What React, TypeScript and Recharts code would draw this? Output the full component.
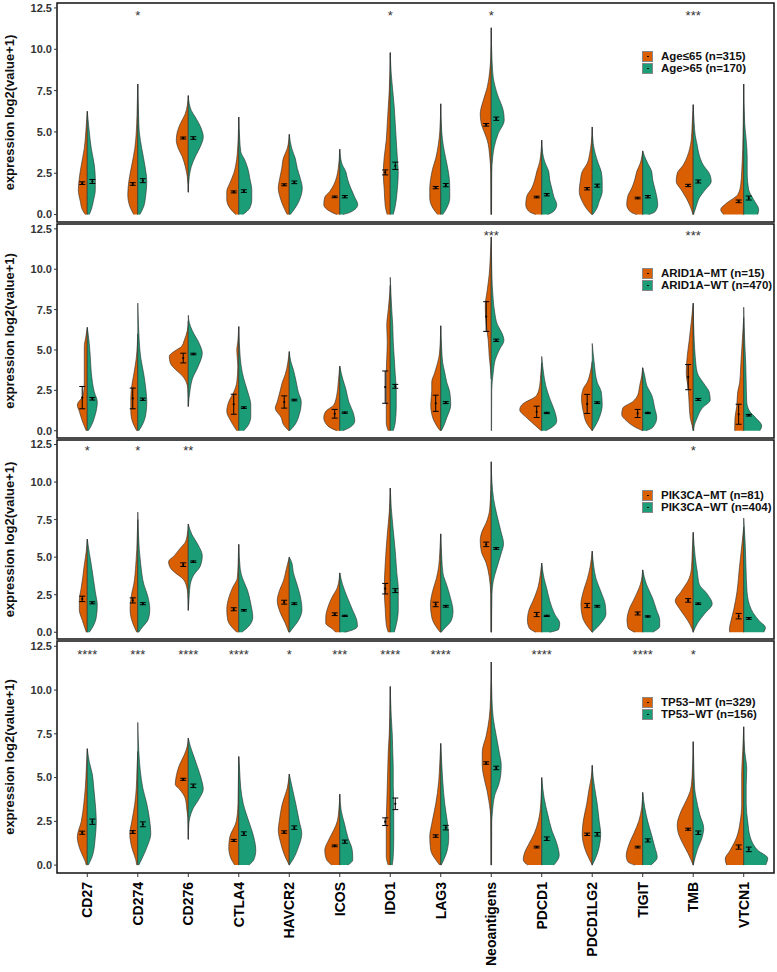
import React from 'react';
import { ComposedChart, Area, XAxis, YAxis, Scatter, ErrorBar, ReferenceArea, Legend } from 'recharts';

type Profile = [number, number][];

const CATEGORIES = ['CD27', 'CD274', 'CD276', 'CTLA4', 'HAVCR2', 'ICOS', 'IDO1', 'LAG3', 'Neoantigens', 'PDCD1', 'PDCD1LG2', 'TIGIT', 'TMB', 'VTCN1'];
const Y_TICKS = [0, 2.5, 5, 7.5, 10, 12.5];
const X_TICKS = [1, 2, 3, 4, 5, 6, 7, 8, 9, 10, 11, 12, 13, 14];

// ---------- Panel 1: Age ----------
const AGE_LEGEND = ['Age≤65 (n=315)', 'Age>65 (n=170)'];
const AGE_STARS = ['', '*', '', '', '', '', '*', '', '*', '', '', '', '***', ''];
const AGE_MEAN_A = [1.9, 1.85, 4.63, 1.37, 1.8, 1.07, 2.55, 1.63, 5.43, 1.06, 1.56, 1.0, 1.76, 0.8];
const AGE_SE_A = [0.08, 0.08, 0.06, 0.06, 0.06, 0.05, 0.15, 0.07, 0.08, 0.05, 0.07, 0.05, 0.07, 0.08];
const AGE_MEAN_B = [2.0, 2.05, 4.63, 1.42, 1.95, 1.08, 2.95, 1.78, 5.8, 1.2, 1.75, 1.08, 2.0, 1.0];
const AGE_SE_B = [0.12, 0.12, 0.08, 0.08, 0.08, 0.07, 0.22, 0.1, 0.1, 0.07, 0.09, 0.07, 0.09, 0.12];
const AGE_SHAPE_A: Profile[] = [
  [[0, 2], [0.3, 5], [0.8, 7], [1.5, 9], [2.2, 8], [3, 6], [4, 3], [5, 1.5], [6.25, 0]],
  [[0, 4], [0.5, 8], [1.2, 10], [2, 9], [3, 6], [4, 3], [5, 1.5], [6, 0.8], [7.9, 0]],
  [[1.35, 0], [2.3, 1], [2.9, 3], [3.5, 6], [4, 10], [4.5, 12], [5, 11], [5.5, 8], [6.1, 3], [6.6, 1], [7.2, 0]],
  [[0, 3], [0.4, 9], [0.9, 12], [1.4, 12], [1.9, 9], [2.5, 5], [3, 3], [3.7, 1.5], [5.9, 0]],
  [[0, 2], [0.5, 6], [1, 9], [1.6, 11], [2.2, 9.5], [2.8, 7.5], [3.4, 6], [4, 2], [4.85, 0]],
  [[0, 3], [0.2, 10], [0.6, 16], [1.05, 15], [1.4, 10], [1.8, 6], [2.3, 3], [2.8, 1.5], [3.95, 0]],
  [[0, 3], [0.5, 5], [1.5, 6], [2.5, 7], [3.5, 6], [4.5, 4], [5.5, 3], [6.5, 2], [7.5, 1], [9.8, 0]],
  [[0, 3], [0.4, 8], [1, 11], [1.6, 11], [2.2, 10], [2.8, 8], [3.4, 5], [4.2, 2.5], [5, 1], [6.7, 0]],
  [[0, 0.3], [2.5, 0.5], [3.5, 1.5], [4.5, 4], [5, 7], [5.5, 10], [6.1, 11], [6.9, 8], [7.7, 4], [8.7, 1.5], [9.5, 0.5], [11.3, 0]],
  [[0, 6], [0.2, 13], [0.6, 16], [1.1, 15], [1.6, 10], [2.1, 7], [2.6, 5], [3.2, 2], [4.5, 0]],
  [[0, 0.5], [0.3, 5], [0.8, 10], [1.4, 13], [2, 12], [2.6, 10], [3.1, 5], [3.7, 2.5], [4.3, 1], [5.3, 0]],
  [[0, 6], [0.15, 12], [0.6, 16], [1.1, 15], [1.6, 11], [2.1, 8], [2.6, 6], [3.1, 2.5], [3.85, 0]],
  [[0, 0.3], [0.5, 3], [1, 7], [1.5, 12], [2, 17], [2.5, 16], [3, 10], [3.5, 6], [4, 3.5], [4.5, 2], [5.5, 1], [6.65, 0]],
  [[0, 20], [0.3, 23], [0.7, 17], [1.2, 6], [1.8, 3], [2.6, 2], [4, 1], [5.5, 0.5], [7.9, 0]],
];
const AGE_SHAPE_B: Profile[] = [
  [[0, 2], [0.3, 4], [0.8, 6], [1.5, 8], [2.2, 8], [3, 7], [4, 4], [5, 2], [6.25, 0]],
  [[0, 2], [0.5, 6], [1.2, 8], [2, 9], [3, 7], [4, 4], [5, 1.5], [6, 0.8], [7.9, 0]],
  [[1.35, 0], [2.3, 1], [2.9, 3], [3.5, 7], [4.1, 12], [4.7, 15], [5.2, 13], [5.9, 7], [6.3, 3], [6.7, 1], [7.2, 0]],
  [[0, 4], [0.4, 11], [0.9, 13], [1.5, 13], [2.2, 11], [2.8, 9], [3.3, 6], [3.8, 2], [4.5, 1], [5.9, 0]],
  [[0, 1], [0.5, 7], [1, 11], [1.6, 13], [2.2, 11], [2.8, 8], [3.4, 6], [4, 2.5], [4.85, 0]],
  [[0, 3], [0.15, 11], [0.6, 18], [1.05, 15], [1.6, 11], [2.1, 8], [2.6, 6], [3.1, 2], [3.95, 0]],
  [[0, 3], [0.5, 5], [1.5, 7], [2.5, 8], [3.5, 7], [4.5, 6], [5.5, 5], [6.5, 4], [7.5, 2.5], [8.5, 1], [9.8, 0]],
  [[0, 2], [0.4, 6], [1, 9], [1.6, 9], [2.2, 8.5], [2.8, 7], [3.4, 5], [4.2, 2.5], [5, 1], [6.7, 0]],
  [[0, 0.3], [2.5, 0.5], [3.5, 1.5], [4.1, 3], [4.9, 7], [5.7, 13], [6.3, 12], [7.3, 6], [8.3, 2], [9.3, 0.8], [11.3, 0]],
  [[0, 6], [0.2, 12], [0.6, 15], [1.1, 12], [1.6, 10], [2.1, 8], [2.6, 7], [3.2, 3], [3.7, 1], [4.5, 0]],
  [[0, 0.5], [0.3, 4], [0.8, 7], [1.4, 10], [2, 10], [2.6, 9], [3.1, 6], [3.7, 3], [4.3, 1], [5.3, 0]],
  [[0, 6], [0.15, 12], [0.6, 15], [1.1, 14], [1.6, 12], [2.1, 10], [2.6, 9], [3.1, 5], [3.5, 2], [3.85, 0]],
  [[0, 0.3], [0.5, 3], [1, 6], [1.5, 12], [2, 18], [2.5, 16], [3, 10], [3.6, 6], [4.2, 4], [4.8, 2], [5.5, 1], [6.65, 0]],
  [[0, 14], [0.3, 15], [0.9, 10], [1.5, 5], [2.5, 3.5], [3.5, 3.5], [4.5, 2.5], [5.5, 1], [7.9, 0]],
];

// ---------- Panel 2: ARID1A ----------
const ARID_LEGEND = ['ARID1A−MT (n=15)', 'ARID1A−WT (n=470)'];
const ARID_STARS = ['', '', '', '', '', '', '', '', '***', '', '', '', '***', ''];
const ARID_MEAN_A = [2.05, 2.0, 4.5, 1.64, 1.78, 1.05, 2.7, 1.7, 7.07, 1.17, 1.66, 1.07, 3.32, 1.02];
const ARID_SE_A = [0.69, 0.64, 0.3, 0.62, 0.38, 0.27, 1.0, 0.5, 0.92, 0.35, 0.59, 0.25, 0.78, 0.62];
const ARID_MEAN_B = [1.98, 1.95, 4.75, 1.43, 1.9, 1.12, 2.75, 1.74, 5.6, 1.1, 1.74, 1.1, 1.94, 0.96];
const ARID_SE_B = [0.08, 0.07, 0.05, 0.05, 0.05, 0.04, 0.12, 0.06, 0.07, 0.04, 0.05, 0.04, 0.06, 0.05];
const ARID_SHAPE_A: Profile[] = [
  [[0, 1], [0.6, 5], [1.2, 8], [1.6, 10], [2.2, 4], [3, 3], [4, 3], [5.2, 3], [5.8, 1.5], [6.4, 0]],
  [[0, 1], [0.5, 5], [1.2, 7], [2, 7], [2.8, 6], [3.5, 4], [4.5, 1.5], [5.3, 0.5], [6, 0]],
  [[1.5, 0], [2.6, 0.5], [3, 2], [3.4, 6], [3.8, 13], [4.2, 18], [4.6, 19], [5, 12], [5.2, 7], [5.6, 4], [6.2, 1], [6.8, 0]],
  [[0, 2], [0.6, 8], [1.2, 12], [1.8, 10], [2.4, 5], [3, 2], [4, 1], [5, 2], [5.5, 1], [6.45, 0]],
  [[0, 0.5], [0.4, 6], [0.8, 8], [1.4, 14], [1.8, 12], [2.5, 9], [3, 7], [3.5, 4], [4.2, 1.5], [4.9, 0]],
  [[0, 3], [0.3, 12], [0.8, 16], [1.2, 14], [1.6, 6], [2.2, 3], [3, 1.5], [4, 0]],
  [[0, 2], [0.5, 4], [1.5, 4], [2.5, 4], [3.5, 4], [4.5, 3.5], [5.5, 3], [6.5, 3.5], [7.5, 2], [8.5, 0.5], [9, 0]],
  [[0, 0.5], [0.3, 4], [0.8, 8], [1.6, 10], [2.5, 9], [3, 9], [3.6, 6], [4.5, 2], [5.5, 0.5], [6.5, 0]],
  [[3.2, 0], [4, 1], [4.6, 2], [5.6, 3], [6.6, 5], [7.7, 6], [8.7, 4], [9.7, 2], [10.7, 1], [12, 0]],
  [[0, 0.5], [0.3, 6], [0.8, 15], [1.3, 22], [1.6, 20], [2.2, 5], [2.8, 2], [3.5, 1], [4.2, 0]],
  [[0, 0], [0.4, 5], [1.2, 9], [2, 10.7], [2.6, 9], [3, 5], [3.6, 2], [4.3, 0]],
  [[0, 0], [0.2, 7], [0.6, 16], [1, 21], [1.4, 20], [1.8, 10], [2.2, 5], [2.8, 3], [3.4, 1], [3.9, 0]],
  [[0, 0], [0.3, 1], [0.8, 3], [1.6, 4], [2.6, 5], [3.6, 7], [4.6, 6], [5.6, 4], [6.7, 2], [7.9, 0]],
  [[0, 9], [0.2, 9], [0.8, 8.7], [1.5, 7], [2.4, 6], [3, 4], [4, 3], [5, 2], [6, 1], [7, 0]],
];
const ARID_SHAPE_B: Profile[] = [
  [[0, 1], [0.2, 3], [1, 8], [1.8, 10], [2.4, 7], [3.6, 4], [4.6, 3], [5.4, 2], [6.4, 0]],
  [[0, 1], [0.3, 4], [1, 8], [1.8, 9], [2.6, 8], [3.5, 6], [4.5, 3], [5.5, 1.5], [6.5, 0.7], [7.9, 0]],
  [[1.5, 0], [2.6, 2], [3.2, 4], [4, 10], [4.8, 14], [5.4, 11], [6.2, 4], [6.7, 1], [7.15, 0]],
  [[0, 5], [0.4, 10], [0.9, 12], [1.6, 12], [2.4, 9], [3, 6], [3.6, 3.5], [4.5, 1.5], [6.45, 0]],
  [[0, 0.5], [0.4, 6], [1, 10], [1.8, 12], [2.4, 9], [3, 7], [3.8, 4], [4.3, 1.5], [4.9, 0]],
  [[0, 3], [0.2, 10], [0.6, 15], [1, 14], [1.8, 9], [2.6, 6], [3.2, 3], [4, 0]],
  [[0, 3], [0.5, 5], [1.5, 6], [2.5, 6], [3.5, 5], [4.5, 4], [5.5, 3], [6.5, 2.5], [7.5, 1.5], [8.5, 0.7], [9.5, 0]],
  [[0, 0.5], [0.3, 3], [0.8, 6], [1.6, 10], [2.4, 9], [3, 6], [3.6, 4], [4.2, 2], [5, 1], [6.5, 0]],
  [[0, 0.3], [2.5, 0.5], [3.6, 2], [4.4, 4], [5, 8], [5.6, 12.7], [6, 11], [6.6, 6], [7.3, 3.5], [8.1, 2], [9, 1], [10, 0.5], [12, 0]],
  [[0, 4], [0.2, 10], [0.6, 15], [1.2, 13], [2, 8], [2.8, 4], [3.5, 2], [4.6, 0]],
  [[0, 0], [0.4, 4], [0.8, 7], [1.6, 10], [2.4, 9], [3, 5], [4.2, 2], [5.4, 0]],
  [[0, 3], [0.2, 10], [0.8, 14], [1.4, 12], [2.2, 9], [2.8, 4], [3.4, 2], [3.9, 0]],
  [[0, 0.5], [0.3, 1], [0.8, 4], [1.4, 9], [1.9, 17], [2.4, 16], [2.8, 12], [3.6, 4], [4.6, 2], [5.6, 1], [7.9, 0]],
  [[0, 16], [0.3, 18], [0.8, 12], [1.2, 6], [1.8, 3], [3, 2.5], [4.2, 2], [5.5, 1], [7.65, 0]],
];

// ---------- Panel 3: PIK3CA ----------
const PIK_LEGEND = ['PIK3CA−MT (n=81)', 'PIK3CA−WT (n=404)'];
const PIK_STARS = ['*', '*', '**', '', '', '', '', '', '', '', '', '', '*', ''];
const PIK_MEAN_A = [2.22, 2.12, 4.5, 1.53, 2.0, 1.2, 2.9, 1.85, 5.85, 1.18, 1.78, 1.25, 2.12, 1.07];
const PIK_SE_A = [0.18, 0.17, 0.12, 0.1, 0.13, 0.09, 0.35, 0.15, 0.15, 0.14, 0.14, 0.1, 0.12, 0.18];
const PIK_MEAN_B = [1.96, 1.9, 4.7, 1.46, 1.9, 1.09, 2.77, 1.73, 5.58, 1.09, 1.73, 1.05, 1.9, 0.92];
const PIK_SE_B = [0.07, 0.07, 0.05, 0.05, 0.06, 0.04, 0.13, 0.06, 0.06, 0.04, 0.06, 0.04, 0.05, 0.06];
const PIK_SHAPE_A: Profile[] = [
  [[0, 1], [0.8, 5], [1.5, 8], [2.1, 8], [3, 6], [3.7, 4.5], [4.5, 3], [5.4, 1], [6.2, 0]],
  [[0, 1], [0.6, 5], [1.5, 7.7], [2.6, 6], [3.2, 4], [4.5, 2], [5.5, 1], [6.5, 0.5], [7.5, 0]],
  [[1.46, 0], [2.5, 0.5], [3, 1.5], [3.6, 6], [3.8, 10], [4.3, 18], [4.7, 19.7], [5.1, 14], [5.6, 8], [6, 3], [6.5, 1], [7.2, 0]],
  [[0, 2], [0.2, 5], [0.8, 11], [1.5, 12], [2.3, 10], [3, 6], [3.6, 1.5], [4.5, 0.7], [5.85, 0]],
  [[0, 0.5], [0.6, 4], [1.3, 9], [2.1, 12], [2.8, 9.7], [3.45, 5.7], [4.2, 3], [5, 0]],
  [[0, 4], [0.2, 7], [0.6, 14], [1, 14], [1.7, 11.7], [2.3, 8], [3, 2.3], [3.95, 0]],
  [[0, 2], [0.5, 4], [1.5, 5], [2.9, 6], [4.6, 5], [6.5, 3], [8, 1], [9.6, 0]],
  [[0, 0.5], [0.4, 5], [1, 9], [1.85, 10.3], [2.7, 8.3], [3.6, 4.3], [4.4, 2], [5.3, 1], [6.55, 0]],
  [[0, 0.3], [2.5, 0.5], [3.7, 2], [4.6, 5], [5.4, 10], [6.1, 11], [6.7, 9.3], [7.3, 5], [8.2, 1.5], [9.5, 0.5], [11.35, 0]],
  [[0, 6], [0.3, 12.7], [0.8, 14.3], [1.5, 12.7], [2.1, 8.7], [3, 3.7], [3.8, 1.5], [4.6, 0]],
  [[0, 0], [0.4, 5], [1, 9.7], [1.85, 11.3], [2.7, 9], [3.6, 4.7], [4.4, 2], [5.4, 0]],
  [[0, 8], [0.3, 14.7], [0.8, 15.7], [1.5, 13.7], [2.3, 8], [3.2, 2.3], [4.15, 0]],
  [[0, 0], [0.2, 1], [0.8, 5.7], [1.6, 14], [2.1, 18], [2.7, 12.3], [3.6, 4], [4.3, 1.7], [5.3, 1], [6.65, 0]],
  [[0, 14], [0.2, 14.3], [0.6, 13.3], [1.5, 10], [2.7, 6.7], [4.3, 4.3], [5.9, 1.7], [7, 0]],
];
const PIK_SHAPE_B: Profile[] = [
  [[0, 2], [0.3, 5], [1, 9], [1.8, 10], [2.7, 8], [3.6, 6], [4.5, 4], [5.3, 2], [6.2, 0]],
  [[0, 1], [0.2, 3], [0.9, 10.7], [1.5, 12], [2.4, 10], [3.2, 6], [4.5, 3], [5.5, 1.5], [6.5, 0.7], [8, 0]],
  [[1.46, 0], [2.5, 1], [3.2, 2], [3.8, 5.3], [4.4, 12], [5.1, 14], [5.8, 10], [6.5, 3.7], [7.2, 0]],
  [[0, 3], [0.4, 10], [1, 14], [1.9, 12], [2.8, 8.7], [3.6, 3.7], [4.2, 1.5], [5.85, 0]],
  [[0, 0.5], [0.2, 2.7], [0.8, 9.3], [1.5, 12.7], [2.4, 11], [3.2, 7.7], [4, 4], [4.6, 2.7], [5, 0]],
  [[0, 5], [0.05, 8], [0.4, 17.7], [0.8, 17], [1.5, 12.7], [2.3, 7.7], [3.2, 2.7], [3.95, 0]],
  [[0, 4], [0.5, 6], [1.5, 8], [2.9, 8], [4, 6.5], [5.4, 5], [7, 2.7], [8.3, 1], [9.6, 0]],
  [[0, 0.5], [0.2, 3], [0.8, 10.7], [1.4, 12.3], [2.3, 9.7], [3.2, 5.7], [3.9, 2.3], [5, 1], [6.55, 0]],
  [[0, 0.3], [2.5, 0.7], [3.4, 2], [4.3, 5.7], [5.2, 9.7], [5.9, 12.3], [6.7, 9.7], [7.8, 5.7], [8.9, 2.3], [10, 0.7], [11.35, 0]],
  [[0, 8], [0.2, 17], [0.6, 18], [1.2, 13], [2.1, 8], [3, 4.7], [3.6, 2.3], [4.6, 0]],
  [[0, 0], [0.6, 8.7], [1.2, 13.7], [1.85, 13], [2.7, 8.7], [3.6, 3.7], [4.4, 1.5], [5.4, 0]],
  [[0, 10], [0.4, 17], [0.8, 17], [1.5, 13.7], [2.3, 9.7], [3.2, 3.7], [3.7, 1.5], [4.15, 0]],
  [[0, 0], [0.6, 4.3], [1.2, 11], [1.9, 19], [2.55, 14], [3.2, 6], [3.9, 4.3], [5, 2], [6.65, 0]],
  [[0, 20], [0.3, 21.7], [0.8, 15], [1.5, 7.7], [2.7, 3.3], [4.3, 2.3], [5.9, 1.5], [7.6, 0]],
];

// ---------- Panel 4: TP53 ----------
const TP53_LEGEND = ['TP53−MT (n=329)', 'TP53−WT (n=156)'];
const TP53_STARS = ['****', '***', '****', '****', '*', '***', '****', '****', '', '****', '', '****', '*', ''];
const TP53_MEAN_A = [1.85, 1.89, 4.9, 1.41, 1.89, 1.1, 2.48, 1.66, 5.83, 1.03, 1.76, 1.03, 2.05, 1.03];
const TP53_SE_A = [0.09, 0.08, 0.06, 0.06, 0.07, 0.05, 0.22, 0.07, 0.07, 0.05, 0.07, 0.05, 0.06, 0.12];
const TP53_MEAN_B = [2.48, 2.33, 4.53, 1.8, 2.14, 1.34, 3.5, 2.14, 5.55, 1.51, 1.76, 1.41, 1.85, 0.9];
const TP53_SE_B = [0.15, 0.14, 0.1, 0.1, 0.1, 0.09, 0.33, 0.13, 0.1, 0.1, 0.1, 0.09, 0.1, 0.13];
const TP53_SHAPE_A: Profile[] = [
  [[0, 1], [0.2, 2], [0.85, 7], [1.6, 10], [2.5, 6], [3.5, 3.5], [4.4, 2], [5.5, 1], [6.65, 0]],
  [[0, 1], [0.3, 2], [1, 6], [1.8, 8], [2.5, 6], [3.5, 3], [4.4, 1.5], [5.5, 0.8], [6.5, 0]],
  [[1.47, 0], [2.3, 0.3], [2.7, 0.5], [3.2, 1.5], [3.8, 3], [4.35, 9], [4.6, 13], [5.1, 12], [5.7, 9], [6.3, 4], [6.8, 1], [7.25, 0]],
  [[0, 4], [0.4, 8], [1, 10], [1.6, 9], [2.5, 2.5], [3.5, 0.8], [4.5, 0.5], [6.2, 0]],
  [[0, 0], [0.4, 3.5], [1.25, 8.5], [2, 11], [2.5, 10], [3.5, 7], [4.4, 2], [5.2, 0]],
  [[0, 8], [0.35, 13.5], [0.85, 15], [1.45, 11], [2, 6], [2.5, 2.5], [3.1, 1], [4.05, 0]],
  [[0, 2], [0.5, 4], [1.6, 4], [2.5, 4], [3.5, 3.5], [4.5, 3], [5.5, 2.5], [6.5, 2], [7.5, 1], [8.5, 0.5], [10.2, 0]],
  [[0, 1], [0.3, 5], [0.85, 10], [1.6, 11], [2.5, 8.5], [3.5, 5], [4.8, 2], [5.8, 1], [6.95, 0]],
  [[0, 0.3], [2.5, 0.5], [3.1, 1], [3.7, 2.5], [4.2, 4], [4.8, 6.5], [5.7, 9], [6.45, 9], [7.4, 5], [8.4, 2], [9.5, 0.7], [11.6, 0]],
  [[0, 14], [0.3, 18.5], [0.65, 17.5], [1.25, 12.5], [1.8, 7.5], [2.5, 3.5], [3.5, 1], [5, 0]],
  [[0, 0], [0.35, 3], [1.05, 8], [1.8, 10], [2.5, 9], [3.5, 5.5], [4.4, 3], [5, 1], [5.7, 0]],
  [[0, 8], [0.2, 15], [0.55, 16.5], [1.15, 14], [1.8, 9], [2.5, 4], [3.3, 1], [4.15, 0]],
  [[0, 0], [0.65, 5], [1.3, 11], [1.85, 15], [2.3, 16], [3.1, 12], [3.8, 6], [4.35, 2.5], [5.2, 1], [7.05, 0]],
  [[0, 17], [0.35, 18.5], [0.85, 13.5], [1.6, 7], [2.5, 3.5], [3.5, 2], [5.2, 2], [6.5, 1], [7.9, 0]],
];
const TP53_SHAPE_B: Profile[] = [
  [[0, 1], [0.6, 5.5], [1.6, 8], [2.5, 9], [3.5, 8], [4.4, 6.5], [5.2, 5], [5.9, 2], [6.65, 0]],
  [[0, 1], [0.35, 4], [1, 9], [1.8, 13], [2.5, 12], [3.5, 9], [4.4, 5], [5.4, 2.5], [6.5, 1], [8.15, 0]],
  [[1.47, 0], [2.3, 0.5], [2.7, 1.5], [3.2, 4.5], [3.8, 11], [4.35, 15], [4.7, 14], [5.3, 11], [6.3, 5], [6.8, 2], [7.25, 0]],
  [[0, 10], [0.3, 15], [0.85, 17], [1.6, 15], [2.5, 10], [3.5, 4.5], [4.4, 2], [5.3, 1], [6.2, 0]],
  [[0, 0], [0.35, 4], [1, 9], [1.8, 12.5], [2.5, 10], [3.5, 6.5], [4.4, 3], [5.2, 0]],
  [[0, 8], [0.3, 13], [0.85, 12.5], [1.6, 8], [2.3, 5], [3.1, 1.5], [4.05, 0]],
  [[0, 2], [0.5, 3], [1.6, 3.5], [2.5, 3.5], [3.5, 3.5], [4.5, 3], [5.5, 3], [6.5, 2.5], [7.5, 2], [8.5, 1], [10.2, 0]],
  [[0, 0.5], [0.3, 3], [0.85, 6.5], [1.6, 8], [2.5, 6.5], [3.5, 4], [4.8, 2], [5.8, 1], [6.95, 0]],
  [[0, 0.3], [2.5, 0.5], [2.9, 1], [3.5, 2], [4, 3.5], [4.6, 7.5], [5.15, 9.5], [5.7, 10], [6.45, 8], [7.4, 5], [8.4, 2], [9.5, 0.7], [11.6, 0]],
  [[0, 12], [0.55, 17.5], [1.25, 15], [2, 10], [2.9, 6], [3.8, 2.5], [4.4, 1], [5, 0]],
  [[0, 0], [0.35, 3], [1.05, 7], [1.8, 8.5], [2.5, 7], [3.5, 5], [4.4, 2.5], [5, 1], [5.7, 0]],
  [[0, 8], [0.45, 14.5], [1.05, 12], [1.8, 8.5], [2.5, 5], [3.3, 2], [4.15, 0]],
  [[0, 0], [0.85, 4], [1.6, 9], [2.1, 10.5], [2.9, 6.5], [3.8, 3], [4.35, 1.5], [5.5, 0.7], [7.05, 0]],
  [[0, 22], [0.4, 24], [0.85, 14], [1.6, 6.5], [2.5, 4], [3.5, 2.5], [4.5, 2.5], [5.5, 3], [6.5, 1], [7.9, 0]],
];

// ---------- styling ----------
const FONT = '"Liberation Sans", Arial, Helvetica, sans-serif';
const ORANGE = '#D95F02';
const TEAL = '#1B9E77';
const OUTLINE = '#2a2a2a';
const X_DOMAIN: [number, number] = [0.4, 14.6];
const Y_DOMAIN: [number, number] = [-0.45, 12.8];
const STAR_Y = 11.8;
const MEAN_OFFSET = 0.1;
const VIOLIN_SCALE = 0.0198;

function buildRows(shA: Profile[], shB: Profile[]) {
  const ys = Array.from(new Set([...shA, ...shB].flatMap((p) => p.map((q) => q[0])))).sort((a, b) => a - b);
  return ys.map((y) => {
    const row: Record<string, any> = { y };
    shA.forEach((p, i) => {
      const q = p.find((pt) => pt[0] === y);
      row['a' + i] = q ? [i + 1 - q[1] * VIOLIN_SCALE, i + 1] : [null, null];
    });
    shB.forEach((p, i) => {
      const q = p.find((pt) => pt[0] === y);
      row['b' + i] = q ? [i + 1, i + 1 + q[1] * VIOLIN_SCALE] : [null, null];
    });
    return row;
  });
}

const MeanDot = (p: any) => <circle cx={p.cx} cy={p.cy} r={1.1} fill="#000" />;

const StarText = (p: any) => (
  <text x={p.cx} y={p.cy} textAnchor="middle" fontSize={13} fill="#333" fontFamily={FONT}>
    {p.payload.s}
  </text>
);

const CatTick = (p: any) => (
  <g transform={`translate(${p.x},${p.y})`}>
    <text x={-3} y={0} dy="0.36em" transform="rotate(-90)" textAnchor="end" fontSize={14} fontWeight={700} fill="#000" fontFamily={FONT}>
      {CATEGORIES[Math.round(p.payload.value) - 1]}
    </text>
  </g>
);

const YLabel = (p: any) => {
  const vb = p.viewBox || {};
  const cx = (vb.x ?? 0) + 9;
  const cy = (vb.y ?? 0) + (vb.height ?? 0) / 2;
  return (
    <text x={cx} y={cy} transform={`rotate(-90 ${cx} ${cy})`} textAnchor="middle" dominantBaseline="central" fontFamily={FONT} fontWeight={700} fontSize={13} fill="#111">
      expression log2(value+1)
    </text>
  );
};

const LegendBox = ({ labels }: { labels: string[] }) => (
  <div style={{ fontFamily: FONT, fontWeight: 700, fontSize: 11.5, color: '#111', lineHeight: '12px' }}>
    {labels.map((l, i) => (
      <div key={l} style={{ display: 'flex', alignItems: 'center', height: 12 }}>
        <span style={{ width: 11, height: 11, background: i === 0 ? ORANGE : TEAL, border: '0.5px solid #888', position: 'relative', display: 'inline-block', marginRight: 8, boxSizing: 'border-box' }}>
          <span style={{ position: 'absolute', left: 4.2, top: 4.2, width: 1.6, height: 1.6, background: '#000', borderRadius: '50%' }} />
        </span>
        <span>{l}</span>
      </div>
    ))}
  </div>
);

type PanelProps = {
  shapesA: Profile[];
  shapesB: Profile[];
  meanA: number[];
  seA: number[];
  meanB: number[];
  seB: number[];
  stars: string[];
  legend: string[];
  showX: boolean;
  height: number;
  marginTop: number;
  legendTop: number;
};

const X_AXIS_HEIGHT = 99;

function Panel({ shapesA, shapesB, meanA, seA, meanB, seB, stars, legend, showX, height, marginTop, legendTop }: PanelProps) {
  const rows = buildRows(shapesA, shapesB);
  const meansA = CATEGORIES.map((_, i) => ({ x: i + 1 - MEAN_OFFSET, y: meanA[i], err: seA[i] }));
  const meansB = CATEGORIES.map((_, i) => ({ x: i + 1 + MEAN_OFFSET, y: meanB[i], err: seB[i] }));
  const starData = stars.map((s, i) => ({ x: i + 1, y: STAR_Y, s })).filter((d) => d.s);
  return (
    <ComposedChart width={777} height={height} data={rows} layout="vertical" margin={{ top: marginTop, right: 3, bottom: showX ? 0 : 1, left: 0 }}>
      <XAxis
        type="number"
        dataKey="x"
        domain={X_DOMAIN}
        allowDataOverflow
        hide={!showX}
        ticks={X_TICKS}
        interval={0}
        height={showX ? X_AXIS_HEIGHT : 0}
        axisLine={false}
        tickLine={{ stroke: '#333' }}
        tickSize={4}
        tick={<CatTick />}
      />
      <YAxis
        type="number"
        dataKey="y"
        domain={Y_DOMAIN}
        allowDataOverflow
        reversed
        ticks={Y_TICKS}
        interval={0}
        width={57}
        axisLine={false}
        tickLine={{ stroke: '#333' }}
        tickSize={3}
        tick={{ fontSize: 11, fontWeight: 700, fill: '#333', fontFamily: FONT }}
        tickFormatter={(v: number) => v.toFixed(1)}
        label={{ content: YLabel }}
      />
      {shapesA.map((_, i) => (
        <Area key={'a' + i} dataKey={'a' + i} type="monotone" fill={ORANGE} fillOpacity={1} stroke={OUTLINE} strokeWidth={0.6} connectNulls isAnimationActive={false} dot={false} activeDot={false} legendType="none" />
      ))}
      {shapesB.map((_, i) => (
        <Area key={'b' + i} dataKey={'b' + i} type="monotone" fill={TEAL} fillOpacity={1} stroke={OUTLINE} strokeWidth={0.6} connectNulls isAnimationActive={false} dot={false} activeDot={false} legendType="none" />
      ))}
      <Scatter data={meansA} dataKey="y" shape={MeanDot} isAnimationActive={false} legendType="none">
        <ErrorBar dataKey="err" direction="y" width={3} stroke="#000" strokeWidth={1} />
      </Scatter>
      <Scatter data={meansB} dataKey="y" shape={MeanDot} isAnimationActive={false} legendType="none">
        <ErrorBar dataKey="err" direction="y" width={3} stroke="#000" strokeWidth={1} />
      </Scatter>
      <Scatter data={starData} dataKey="y" shape={StarText} isAnimationActive={false} legendType="none" />
      <ReferenceArea x1={X_DOMAIN[0]} x2={X_DOMAIN[1]} y1={Y_DOMAIN[0]} y2={Y_DOMAIN[1]} fill="none" stroke="#111" strokeWidth={1.5} ifOverflow="visible" />
      <Legend
        layout="horizontal"
        verticalAlign="middle"
        align="center"
        content={() => <LegendBox labels={legend} />}
        wrapperStyle={{ left: 642, top: legendTop, width: 135, height: 24 }}
      />
    </ComposedChart>
  );
}

export default function App() {
  return (
    <div style={{ position: 'absolute', left: 0, top: 0, width: 777, height: 972, background: '#fff', overflow: 'hidden' }}>
      <Panel shapesA={AGE_SHAPE_A} shapesB={AGE_SHAPE_B} meanA={AGE_MEAN_A} seA={AGE_SE_A} meanB={AGE_MEAN_B} seB={AGE_SE_B} stars={AGE_STARS} legend={AGE_LEGEND} showX={false} height={223} marginTop={3} legendTop={50} />
      <Panel shapesA={ARID_SHAPE_A} shapesB={ARID_SHAPE_B} meanA={ARID_MEAN_A} seA={ARID_SE_A} meanB={ARID_MEAN_B} seB={ARID_SE_B} stars={ARID_STARS} legend={ARID_LEGEND} showX={false} height={216} marginTop={1} legendTop={44} />
      <Panel shapesA={PIK_SHAPE_A} shapesB={PIK_SHAPE_B} meanA={PIK_MEAN_A} seA={PIK_SE_A} meanB={PIK_MEAN_B} seB={PIK_SE_B} stars={PIK_STARS} legend={PIK_LEGEND} showX={false} height={201} marginTop={1} legendTop={50} />
      <Panel shapesA={TP53_SHAPE_A} shapesB={TP53_SHAPE_B} meanA={TP53_MEAN_A} seA={TP53_SE_A} meanB={TP53_MEAN_B} seB={TP53_SE_B} stars={TP53_STARS} legend={TP53_LEGEND} showX={true} height={332} marginTop={1} legendTop={56} />
    </div>
  );
}
